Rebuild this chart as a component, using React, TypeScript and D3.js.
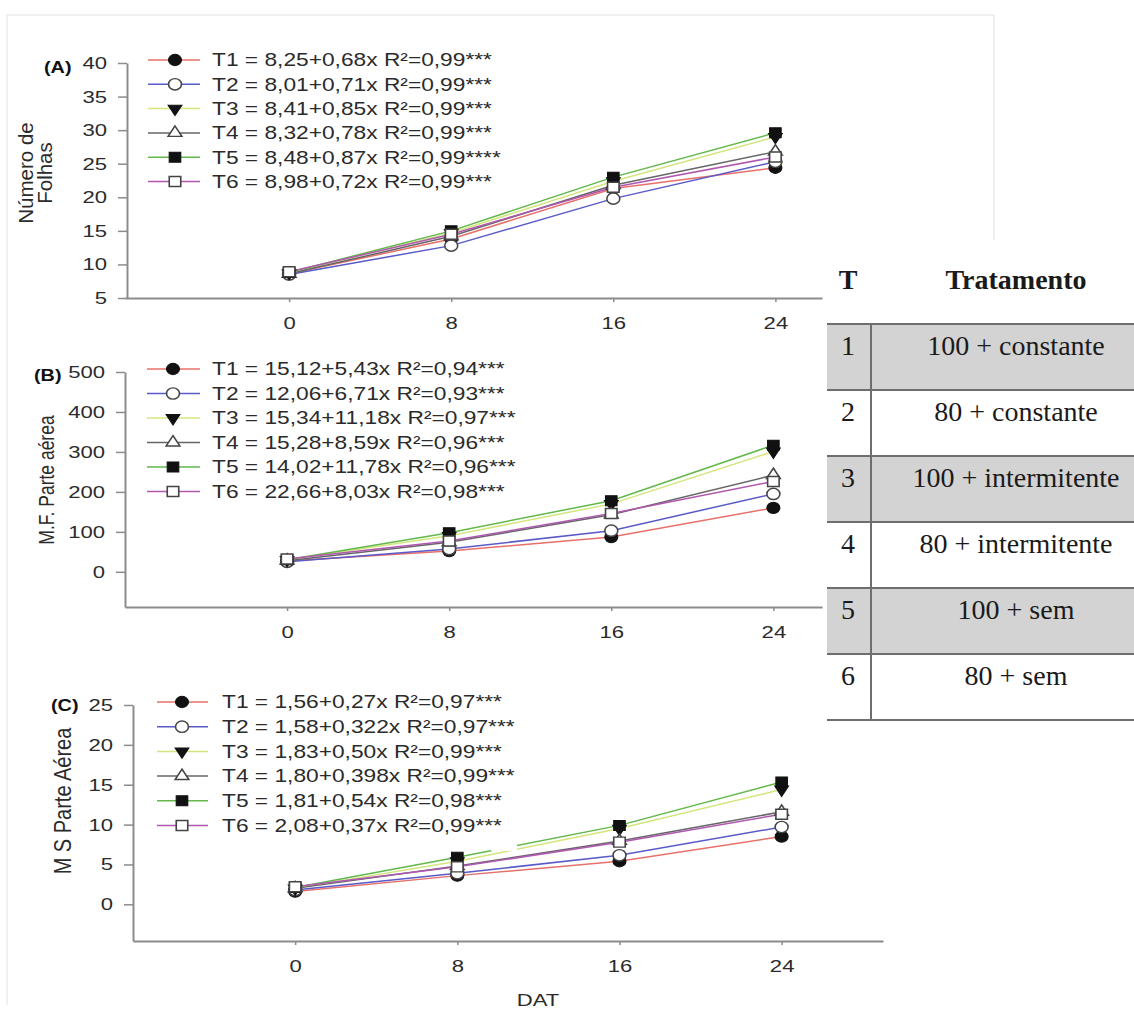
import React, { useRef, useEffect } from 'react';
import * as d3 from 'd3';

// days after transplant (DAT)
const days = [0, 8, 16, 24];
const series = ['T1', 'T2', 'T3', 'T4', 'T5', 'T6'];
const seriesColors = ['#e8706a', '#5a5ac8', '#d2e67c', '#666666', '#62b84a', '#b057b0'];
const seriesMarkers = ['circle', 'circleOpen', 'triDown', 'triOpen', 'square', 'squareOpen'];

// (A) Número de Folhas
const folhasValues = [
  [8.6, 13.8, 21.3, 24.4],
  [8.5, 12.8, 19.8, 25.3],
  [8.7, 14.7, 22.4, 29.0],
  [8.6, 14.2, 21.8, 26.8],
  [8.8, 15.0, 23.0, 29.6],
  [8.9, 14.5, 21.5, 26.0],
];
const folhasLegend = [
  'T1 = 8,25+0,68x R²=0,99***',
  'T2 = 8,01+0,71x R²=0,99***',
  'T3 = 8,41+0,85x R²=0,99***',
  'T4 = 8,32+0,78x R²=0,99***',
  'T5 = 8,48+0,87x R²=0,99****',
  'T6 = 8,98+0,72x R²=0,99***',
];
const folhasTicks = [5, 10, 15, 20, 25, 30, 35, 40];

// (B) M.F. Parte aérea
const mfValues = [
  [27, 52, 87, 160],
  [25, 57, 103, 195],
  [30, 90, 170, 301],
  [28, 74, 143, 242],
  [30, 98, 178, 317],
  [32, 77, 146, 226],
];
const mfLegend = [
  'T1 = 15,12+5,43x R²=0,94***',
  'T2 = 12,06+6,71x R²=0,93***',
  'T3 = 15,34+11,18x R²=0,97***',
  'T4 = 15,28+8,59x R²=0,96***',
  'T5 = 14,02+11,78x R²=0,96***',
  'T6 = 22,66+8,03x R²=0,98***',
];
const mfTicks = [0, 100, 200, 300, 400, 500];

// (C) M S Parte Aérea
const msValues = [
  [1.6, 3.6, 5.4, 8.5],
  [1.8, 3.9, 6.15, 9.7],
  [2.0, 5.4, 9.5, 14.4],
  [2.0, 4.8, 7.95, 11.6],
  [2.1, 5.9, 9.9, 15.35],
  [2.2, 4.7, 7.8, 11.3],
];
const msLegend = [
  'T1 = 1,56+0,27x R²=0,97***',
  'T2 = 1,58+0,322x R²=0,97***',
  'T3 = 1,83+0,50x R²=0,99***',
  'T4 = 1,80+0,398x R²=0,99***',
  'T5 = 1,81+0,54x R²=0,98***',
  'T6 = 2,08+0,37x R²=0,99***',
];
const msTicks = [0, 5, 10, 15, 20, 25];

const tableNumbers = ['1', '2', '3', '4', '5', '6'];
const tableTreatments = [
  '100 + constante',
  '80 + constante',
  '100 + intermitente',
  '80 + intermitente',
  '100 + sem',
  '80 + sem',
];

const SANS = '"Liberation Sans", Arial, sans-serif';
const SERIF = '"Liberation Serif", "Times New Roman", serif';
const axisColor = '#8c8c8c';
const textColor = '#2b2b2b';
const SX = 1.3; // the figure is stretched horizontally

const App = () => {
  const ref = useRef<SVGSVGElement>(null);

  useEffect(() => {
    const svg = d3.select(ref.current);
    svg.selectAll('*').remove();

    // faint frame left over from the page
    const frame = svg.append('g').attr('stroke', '#ececec').attr('stroke-width', 1.5).attr('fill', 'none');
    frame.append('path').attr('d', 'M7,1005 V15 H994 V240');

    const panels = [
      {
        values: folhasValues, legend: folhasLegend, ticks: folhasTicks,
        x: d3.scaleLinear().domain([-8.1, 26.3]).range([125, 822]),
        y: d3.scaleLinear().domain([5, 40]).range([298, 63]),
        axisX: 127, legendY: 60, legendStep: 24.3, lineX: [148, 200], markX: 175, textX: 212,
        title: ['Número de', 'Folhas'], titleX: [26, 45], titleY: 173, titleSize: 20.5, titleStretch: 1.0,
        label: '(A)', labelX: 44, labelY: 73,
      },
      {
        values: mfValues, legend: mfLegend, ticks: mfTicks,
        x: d3.scaleLinear().domain([-8.0, 26.4]).range([125, 822]),
        y: d3.scaleLinear().domain([-88, 500]).range([607, 372]),
        axisX: 125, legendY: 369, legendStep: 24.5, lineX: [147, 200], markX: 173, textX: 212,
        title: ['M.F. Parte aérea'], titleX: [46], titleY: 480, titleSize: 17.5, titleStretch: 1.3,
        label: '(B)', labelX: 34, labelY: 381,
      },
      {
        values: msValues, legend: msLegend, ticks: msTicks,
        x: d3.scaleLinear().domain([-8.0, 29.0]).range([133, 883]),
        y: d3.scaleLinear().domain([-4.6, 25]).range([941, 705]),
        axisX: 133, legendY: 702, legendStep: 24.7, lineX: [157, 208], markX: 182, textX: 222,
        title: ['M S Parte Aérea'], titleX: [63], titleY: 801, titleSize: 20, titleStretch: 1.15,
        label: '(C)', labelX: 51, labelY: 711,
      },
    ];

    const drawMarker = (g, kind, cx, cy) => {
      const open = kind.endsWith('Open');
      let type = d3.symbolCircle;
      let size = 100;
      let rot = 0;
      if (kind.startsWith('tri')) { type = d3.symbolTriangle; size = 62; rot = kind === 'triDown' ? 180 : 0; }
      if (kind.startsWith('square')) { type = d3.symbolSquare; size = 100; }
      g.append('path')
        .attr('d', d3.symbol().type(type).size(size)())
        .attr('transform', `translate(${cx},${cy}) scale(1.15,1) rotate(${rot})`)
        .attr('fill', open ? '#ffffff' : '#111111')
        .attr('stroke', open ? '#444444' : '#111111')
        .attr('stroke-width', open ? 1.4 : 1);
    };

    panels.forEach((p, pi) => {
      const g = svg.append('g');

      // axes
      const gx = g.append('g')
        .attr('transform', `translate(0,${p.y.range()[0]})`)
        .call(d3.axisBottom(p.x).tickValues(days).tickSize(4).tickSizeOuter(0));
      gx.select('.domain').attr('stroke', axisColor).attr('stroke-width', 2);
      gx.selectAll('.tick line').attr('stroke', axisColor).attr('stroke-width', 1.5);
      gx.selectAll('.tick text')
        .attr('font-family', SANS).attr('font-size', 17).attr('fill', textColor)
        .attr('y', 19).attr('transform', `scale(${SX},1)`);

      const gy = g.append('g')
        .attr('transform', `translate(${p.axisX},0)`)
        .call(d3.axisLeft(p.y).tickValues(p.ticks).tickSize(9).tickSizeOuter(0));
      gy.select('.domain').attr('stroke', axisColor).attr('stroke-width', 2);
      gy.selectAll('.tick line').attr('stroke', axisColor).attr('stroke-width', 1.5);
      gy.selectAll('.tick text')
        .attr('font-family', SANS).attr('font-size', 17).attr('fill', textColor)
        .attr('x', -20 / SX).attr('transform', `scale(${SX},1)`);

      // lines
      const line = d3.line<number>().x((d, i) => p.x(days[i])).y((d) => p.y(d));
      p.values.forEach((vals, si) => {
        g.append('path')
          .attr('d', line(vals))
          .attr('fill', 'none')
          .attr('stroke', seriesColors[si])
          .attr('stroke-width', 1.5);
      });

      // small gap in the upper lines of panel C, as in the figure
      if (pi === 2) {
        g.append('rect').attr('x', 491).attr('y', 836).attr('width', 26).attr('height', 15).attr('fill', '#fff');
      }

      p.values.forEach((vals, si) => {
        vals.forEach((v, i) => drawMarker(g, seriesMarkers[si], p.x(days[i]), p.y(v)));
      });

      // legend
      series.forEach((s, si) => {
        const ly = p.legendY + si * p.legendStep;
        g.append('line')
          .attr('x1', p.lineX[0]).attr('x2', p.lineX[1]).attr('y1', ly).attr('y2', ly)
          .attr('stroke', seriesColors[si]).attr('stroke-width', 1.5);
        drawMarker(g, seriesMarkers[si], p.markX, ly);
        g.append('text')
          .attr('transform', `translate(${p.textX},${ly}) scale(${SX},1)`)
          .attr('dy', '0.36em')
          .attr('font-family', SANS).attr('font-size', 17.5).attr('fill', textColor)
          .text(p.legend[si]);
      });

      // y title
      p.title.forEach((t, ti) => {
        g.append('text')
          .attr('transform', `translate(${p.titleX[ti]},${p.titleY}) rotate(-90) scale(1,${p.titleStretch})`)
          .attr('text-anchor', 'middle').attr('dy', '0.36em')
          .attr('font-family', SANS).attr('font-size', p.titleSize).attr('fill', textColor)
          .text(t);
      });

      // panel label
      g.append('text')
        .attr('transform', `translate(${p.labelX},${p.labelY}) scale(1.2,1)`)
        .attr('font-family', SANS).attr('font-size', 16.5).attr('font-weight', 'bold').attr('fill', '#111')
        .text(p.label);
    });

    // x title
    svg.append('text')
      .attr('transform', `translate(538,1006) scale(${SX},1)`)
      .attr('text-anchor', 'middle')
      .attr('font-family', SANS).attr('font-size', 17).attr('fill', textColor)
      .text('DAT');

    // treatment table
    const tg = svg.append('g');
    const rows = d3.scaleBand<string>().domain(tableNumbers).range([324, 720]);
    const colT = 848;
    const colTrat = 1016;
    tg.append('rect').attr('x', 823).attr('y', 240).attr('width', 311).attr('height', 500).attr('fill', '#fff');
    tableNumbers.forEach((n, i) => {
      if (i % 2 === 0) {
        tg.append('rect')
          .attr('x', 827).attr('y', rows(n)).attr('width', 307).attr('height', rows.bandwidth())
          .attr('fill', '#d3d3d3');
      }
    });
    [...tableNumbers.map((n) => rows(n)), 720].forEach((yy) => {
      tg.append('line').attr('x1', 827).attr('x2', 1134).attr('y1', yy).attr('y2', yy)
        .attr('stroke', '#6e6e6e').attr('stroke-width', 2);
    });
    tg.append('line').attr('x1', 871).attr('x2', 871).attr('y1', 324).attr('y2', 720)
      .attr('stroke', '#6e6e6e').attr('stroke-width', 2);

    tg.append('text').attr('x', colT).attr('y', 289).attr('text-anchor', 'middle')
      .attr('font-family', SERIF).attr('font-weight', 'bold').attr('font-size', 28).attr('fill', '#1a1a1a')
      .text('T');
    tg.append('text').attr('x', colTrat).attr('y', 289).attr('text-anchor', 'middle')
      .attr('font-family', SERIF).attr('font-weight', 'bold').attr('font-size', 28).attr('fill', '#1a1a1a')
      .text('Tratamento');
    tableNumbers.forEach((n, i) => {
      const by = rows(n) + 31;
      tg.append('text').attr('x', colT).attr('y', by).attr('text-anchor', 'middle')
        .attr('font-family', SERIF).attr('font-size', 28).attr('fill', '#1a1a1a').text(n);
      tg.append('text').attr('x', colTrat).attr('y', by).attr('text-anchor', 'middle')
        .attr('font-family', SERIF).attr('font-size', 28).attr('fill', '#1a1a1a').text(tableTreatments[i]);
    });
  }, []);

  return (
    <svg
      ref={ref}
      width={1134}
      height={1012}
      style={{ position: 'absolute', left: 0, top: 0, display: 'block', background: '#fff' }}
    />
  );
};

export default App;
